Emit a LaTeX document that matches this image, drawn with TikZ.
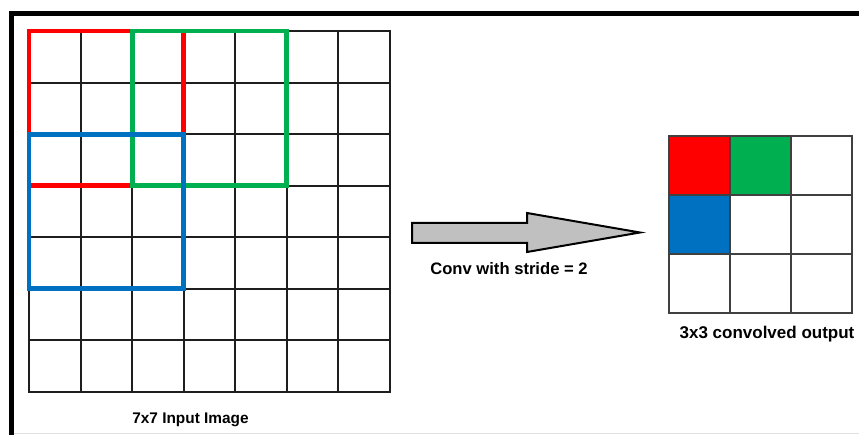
\documentclass[tikz,border=0pt]{standalone}
\usepackage{fontspec}
\setmainfont{Liberation Sans}
\definecolor{kred}{HTML}{FF0000}
\definecolor{kgreen}{HTML}{00B050}
\definecolor{kblue}{HTML}{0070C0}
\definecolor{kgray}{HTML}{C0C0C0}
\definecolor{gridc}{HTML}{1E1E1E}
\begin{document}
\begin{tikzpicture}[x=1pt,y=-1pt,
  gridline/.style={draw=gridc,line width=1.9pt},
  kernel/.style={line width=4.8pt,line join=miter,line cap=rect},
  lbl/.style={font=\fontsize{16}{18}\selectfont\bfseries,inner sep=0pt,anchor=base},
  box/.style={inner sep=0pt,outer sep=0pt}]
\useasboundingbox (0,0) rectangle (859,435);
% frame
\fill[black] (9,11) rectangle (859,16);
\fill[black] (9,11) rectangle (14,435);
\draw[color=black!12,line width=1pt] (14,433.5) -- (859,433.5);
% input grid
\node[box,minimum width=361pt,minimum height=361pt] (in) at (209.5,211.5) {};
\draw[gridline,step=51.5714pt,shift={(29,31)}] (0,0) grid (361,361);
\draw[gridline] (29,31) rectangle (390,392);
% kernels
\def\c{51.5714}
\draw[kernel,kred]   (29,31) rectangle ({29+3*\c},{31+3*\c});
\draw[kernel,kgreen] ({29+2*\c},31) rectangle ({29+5*\c},{31+3*\c});
\draw[kernel,kblue]  (29,{31+2*\c}) rectangle ({29+3*\c},{31+5*\c});
\node[lbl,font=\fontsize{15.4}{18}\selectfont\bfseries] (inlbl) at (190.5,423) {7x7 Input Image};
% arrow
\draw[fill=kgray,draw=black,line width=2pt,line join=miter]
  (412,223) -- (527,223) -- (527,213) -- (640,232.5) -- (527,252) -- (527,243) -- (412,243) -- cycle;
\node[lbl,font=\fontsize{16.6}{18}\selectfont\bfseries] (conv) at (509,275) {Conv with stride = 2};
% output grid
\node[box,minimum width=183pt,minimum height=177pt] (out) at (760.5,224.5) {};
\fill[kred]   (669,136) rectangle (730,195);
\fill[kgreen] (730,136) rectangle (791,195);
\fill[kblue]  (669,195) rectangle (730,254);
\draw[draw=gridc!85,line width=2.2pt] (669,136) rectangle (852,313);
\foreach \i in {1,2} {
  \draw[draw=gridc!85,line width=2.2pt] ({669+61*\i},136) -- ({669+61*\i},313);
  \draw[draw=gridc!85,line width=2.2pt] (669,{136+59*\i}) -- (852,{136+59*\i});
}
\node[lbl,font=\fontsize{17}{18}\selectfont\bfseries] (outlbl) at (767,339) {3x3 convolved output};
\end{tikzpicture}
\end{document}
